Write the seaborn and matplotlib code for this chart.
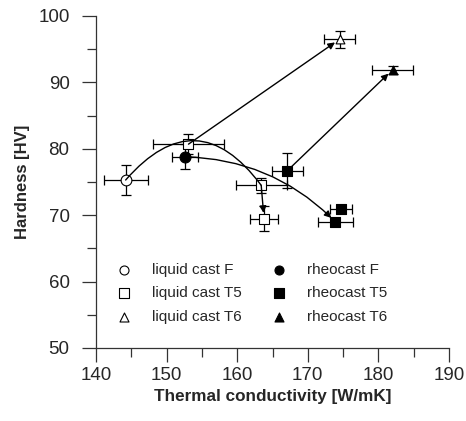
import matplotlib
matplotlib.use("Agg")
import matplotlib.pyplot as plt
import seaborn as sns
import pandas as pd
from matplotlib.ticker import MultipleLocator

# ---- data ----
groups = ["liquid cast F", "liquid cast T5", "liquid cast T5", "liquid cast T5",
          "liquid cast T6", "rheocast F", "rheocast T5", "rheocast T5",
          "rheocast T5", "rheocast T6"]
conductivity = [144.2, 153.1, 163.4, 163.8, 174.5, 152.6, 167.1, 174.7, 173.9, 182.0]
hardness = [75.3, 80.7, 74.5, 69.5, 96.5, 78.8, 76.7, 71.0, 69.0, 91.9]
cond_err = [3.1, 5.0, 3.6, 2.0, 2.2, 1.8, 2.2, 1.6, 2.5, 2.9]
hard_err = [2.2, 1.5, 1.1, 1.9, 1.3, 1.9, 2.6, 0.3, 0.3, 0.6]

legend_order = ["liquid cast F", "liquid cast T5", "liquid cast T6",
                "rheocast F", "rheocast T5", "rheocast T6"]
# connectors between data points: (from index, to index, curvature, arrow head)
arrows = [(0, 2, -0.62, False), (2, 3, 0.0, True), (1, 4, 0.0, True),
          (5, 8, -0.2, True), (6, 9, 0.0, True)]

x_label = "Thermal conductivity [W/mK]"
y_label = "Hardness [HV]"

df = pd.DataFrame({"group": groups, "k": conductivity, "hv": hardness,
                   "kerr": cond_err, "hverr": hard_err})

sns.set_style("ticks")
plt.rcParams["font.family"] = ["Liberation Sans", "DejaVu Sans"]

fig = plt.figure(figsize=(4.66, 4.21), dpi=100)
ax = fig.add_axes([96 / 466, 1 - 348 / 421, 353 / 466, 332 / 421])

ax.errorbar(df["k"], df["hv"], xerr=df["kerr"], yerr=df["hverr"], fmt="none",
            ecolor="black", elinewidth=0.9, capsize=3.8, capthick=0.9, zorder=2)

styles = {
    "liquid cast F": ("o", "white", 60),
    "liquid cast T5": ("s", "white", 48),
    "liquid cast T6": ("^", "white", 40),
    "rheocast F": ("o", "black", 62),
    "rheocast T5": ("s", "black", 52),
    "rheocast T6": ("^", "black", 40),
}
for g in legend_order:
    m, fc, s = styles[g]
    sub = df[df["group"] == g]
    sns.scatterplot(data=sub, x="k", y="hv", marker=m, s=s, color=fc,
                    edgecolor="black", linewidth=0.8, label=g, ax=ax, zorder=3)

for i, j, rad, head in arrows:
    ax.annotate("", xy=(conductivity[j], hardness[j]),
                xytext=(conductivity[i], hardness[i]),
                arrowprops=dict(arrowstyle="-|>" if head else "-", color="black",
                                lw=1.0, mutation_scale=10, shrinkA=0,
                                shrinkB=4 if head else 0,
                                connectionstyle=f"arc3,rad={rad}"),
                zorder=4)

ax.set_xlim(140, 190)
ax.set_ylim(50, 100)
ax.xaxis.set_major_locator(MultipleLocator(10))
ax.xaxis.set_minor_locator(MultipleLocator(5))
ax.yaxis.set_major_locator(MultipleLocator(10))
ax.yaxis.set_minor_locator(MultipleLocator(5))
ax.tick_params(axis="both", which="major", length=10, width=0.9, labelsize=13.5,
               color="#333333")
ax.tick_params(axis="both", which="minor", length=6.5, width=0.9, color="#333333")
ax.tick_params(axis="y", which="major", pad=9)
ax.tick_params(axis="x", which="major", pad=4)
sns.despine(ax=ax)
for sp in ["left", "bottom"]:
    ax.spines[sp].set_linewidth(0.9)
    ax.spines[sp].set_color("#333333")

ax.set_xlabel(x_label, fontsize=12.3, fontweight="bold", labelpad=3)
ax.set_ylabel(y_label, fontsize=12, fontweight="bold", labelpad=6)

leg = ax.legend(ncol=2, frameon=False, fontsize=11, loc="upper left",
                bbox_to_anchor=(0.02, 0.275), handletextpad=0.8,
                columnspacing=1.45, labelspacing=0.62, borderaxespad=0)
for h in leg.legend_handles:
    h.set_sizes([42])

fig.savefig("out.png", dpi=100)
